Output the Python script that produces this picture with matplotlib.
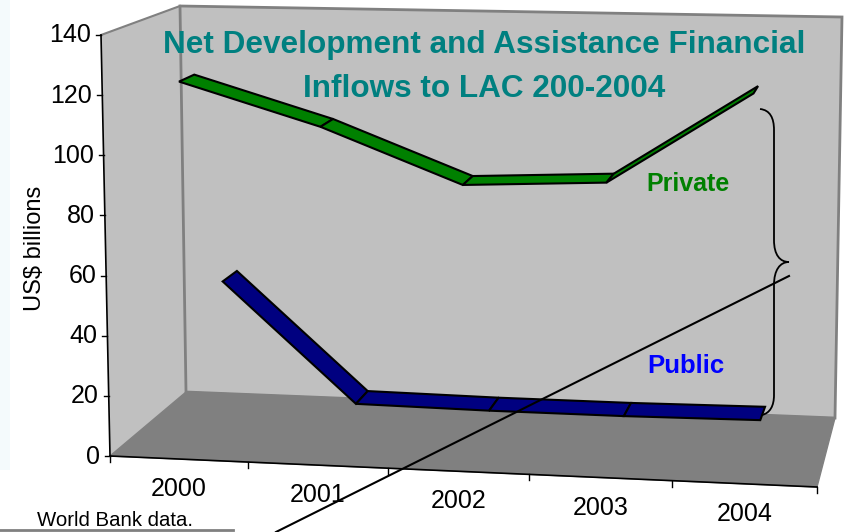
import numpy as np
import matplotlib
matplotlib.use("Agg")
import matplotlib.pyplot as plt
from matplotlib.patches import Polygon, PathPatch, Rectangle
from matplotlib.path import Path

plt.rcParams['font.family'] = ['Liberation Sans', 'DejaVu Sans']

# values
years = ['2000', '2001', '2002', '2003', '2004']
private = [124, 110, 92, 94, 124]
public = [47.5, 6.5, 6, 6, 6.5]
y_ticks = [0, 20, 40, 60, 80, 100, 120, 140]
y_max = 140
title = 'Net Development and Assistance Financial\nInflows to LAC 200-2004'

# corners of the 3d box in pixels (front/back, bottom/top, left/right)
FBL = np.array([110, 456.0])
FTL = np.array([101, 35.0])
BBL = np.array([186, 392.0])
BTL = np.array([180, 6.0])
FBR = np.array([817, 487.0])
FTR = np.array([827, 48.0])
BBR = np.array([835, 418.0])
BTR = np.array([842, 17.0])


def project(u, v, d):
    # u across the categories 0-1, v value, d depth 0-1
    k = 1.03
    u = u / (u + k * (1 - u))
    t = v / y_max
    front = (1 - u) * ((1 - t) * FBL + t * FTL) + u * ((1 - t) * FBR + t * FTR)
    back = (1 - u) * ((1 - t) * BBL + t * BTL) + u * ((1 - t) * BBR + t * BTR)
    return (1 - d) * front + d * back


def ribbon(ax, values, d0, d1, color):
    n = len(values)
    for i in range(n - 1):
        u0 = (i + 0.5) / n
        u1 = (i + 1.5) / n
        quad = [project(u0, values[i], d0), project(u1, values[i + 1], d0),
                project(u1, values[i + 1], d1), project(u0, values[i], d1)]
        ax.add_patch(Polygon(quad, closed=True, facecolor=color, edgecolor='black',
                             linewidth=1.5, joinstyle='miter'))


fig = plt.figure(figsize=(8.46, 5.32), dpi=100)
ax = fig.add_axes([0, 0, 1, 1])
ax.set_xlim(0, 846)
ax.set_ylim(532, 0)
ax.axis('off')

# faint strip on the slide background
ax.add_patch(Rectangle((0, 0), 10, 470, facecolor='#F4FAFC', edgecolor='none'))

# walls and floor
ax.add_patch(Polygon([FTL, BTL, BBL, FBL], facecolor='#C0C0C0', edgecolor='none'))
ax.add_patch(Polygon([BTL, BTR, BBR, BBL], facecolor='#C0C0C0', edgecolor='#808080', linewidth=2))
ax.add_patch(Polygon([FBL, BBL, BBR, FBR], facecolor='#808080', edgecolor='#808080', linewidth=1))
ax.plot([FTL[0], BTL[0]], [FTL[1], BTL[1]], color='#808080', lw=1.5)

# axes
ax.plot([FTL[0], FBL[0]], [FTL[1], FBL[1]], color='black', lw=1.2)
ax.plot([FBL[0], FBR[0]], [FBL[1], FBR[1]], color='black', lw=1.2)
for v in y_ticks:
    p = project(0, v, 0)
    ax.plot([p[0] - 5, p[0]], [p[1], p[1]], color='black', lw=1)
    ax.text(p[0] - 10, p[1] + 0.5, str(v), ha='right', va='center', fontsize=18)
for i in range(len(years) + 1):
    p = project(i / len(years), 0, 0)
    ax.plot([p[0], p[0]], [p[1], p[1] + 6], color='black', lw=1)
for i, year in enumerate(years):
    p = project((i + 0.5) / len(years), 0, 0)
    ax.text(p[0], p[1] + 30, year, ha='center', va='center', fontsize=18)
ax.text(35, 248, 'US$ billions', rotation=90, ha='center', va='center', fontsize=17)

# series ribbons, back one first
ribbon(ax, public, 0.65, 0.85, '#000080')
ribbon(ax, private, 0.09, 0.30, '#008000')

ax.text(484.5, 67, title, ha='center', va='center', fontsize=22.7, fontweight='bold',
        color='#008080', linespacing=1.62)
ax.text(688, 184, 'Private', ha='center', va='center', fontsize=18, fontweight='bold', color='#008000')
ax.text(686, 366, 'Public', ha='center', va='center', fontsize=18.5, fontweight='bold', color='#0000FF')
ax.text(37, 520, 'World Bank data.', ha='left', va='center', fontsize=14.7)
ax.plot([0, 233], [530, 530], color='#808080', lw=2)

# brace and pointer line
verts = [(760, 109), (770, 110), (774, 118), (774, 130),
         (774, 240), (774, 255), (780, 262), (789, 262),
         (780, 262), (774, 270), (774, 285),
         (774, 395), (774, 406), (770, 413), (762, 415)]
codes = [Path.MOVETO, Path.CURVE4, Path.CURVE4, Path.CURVE4,
         Path.LINETO, Path.CURVE4, Path.CURVE4, Path.CURVE4,
         Path.CURVE4, Path.CURVE4, Path.CURVE4,
         Path.LINETO, Path.CURVE4, Path.CURVE4, Path.CURVE4]
ax.add_patch(PathPatch(Path(verts, codes), facecolor='none', edgecolor='black', lw=1.3))
ax.plot([789, 276], [276, 532], color='black', lw=1.5)

fig.savefig('out.png', dpi=100)
